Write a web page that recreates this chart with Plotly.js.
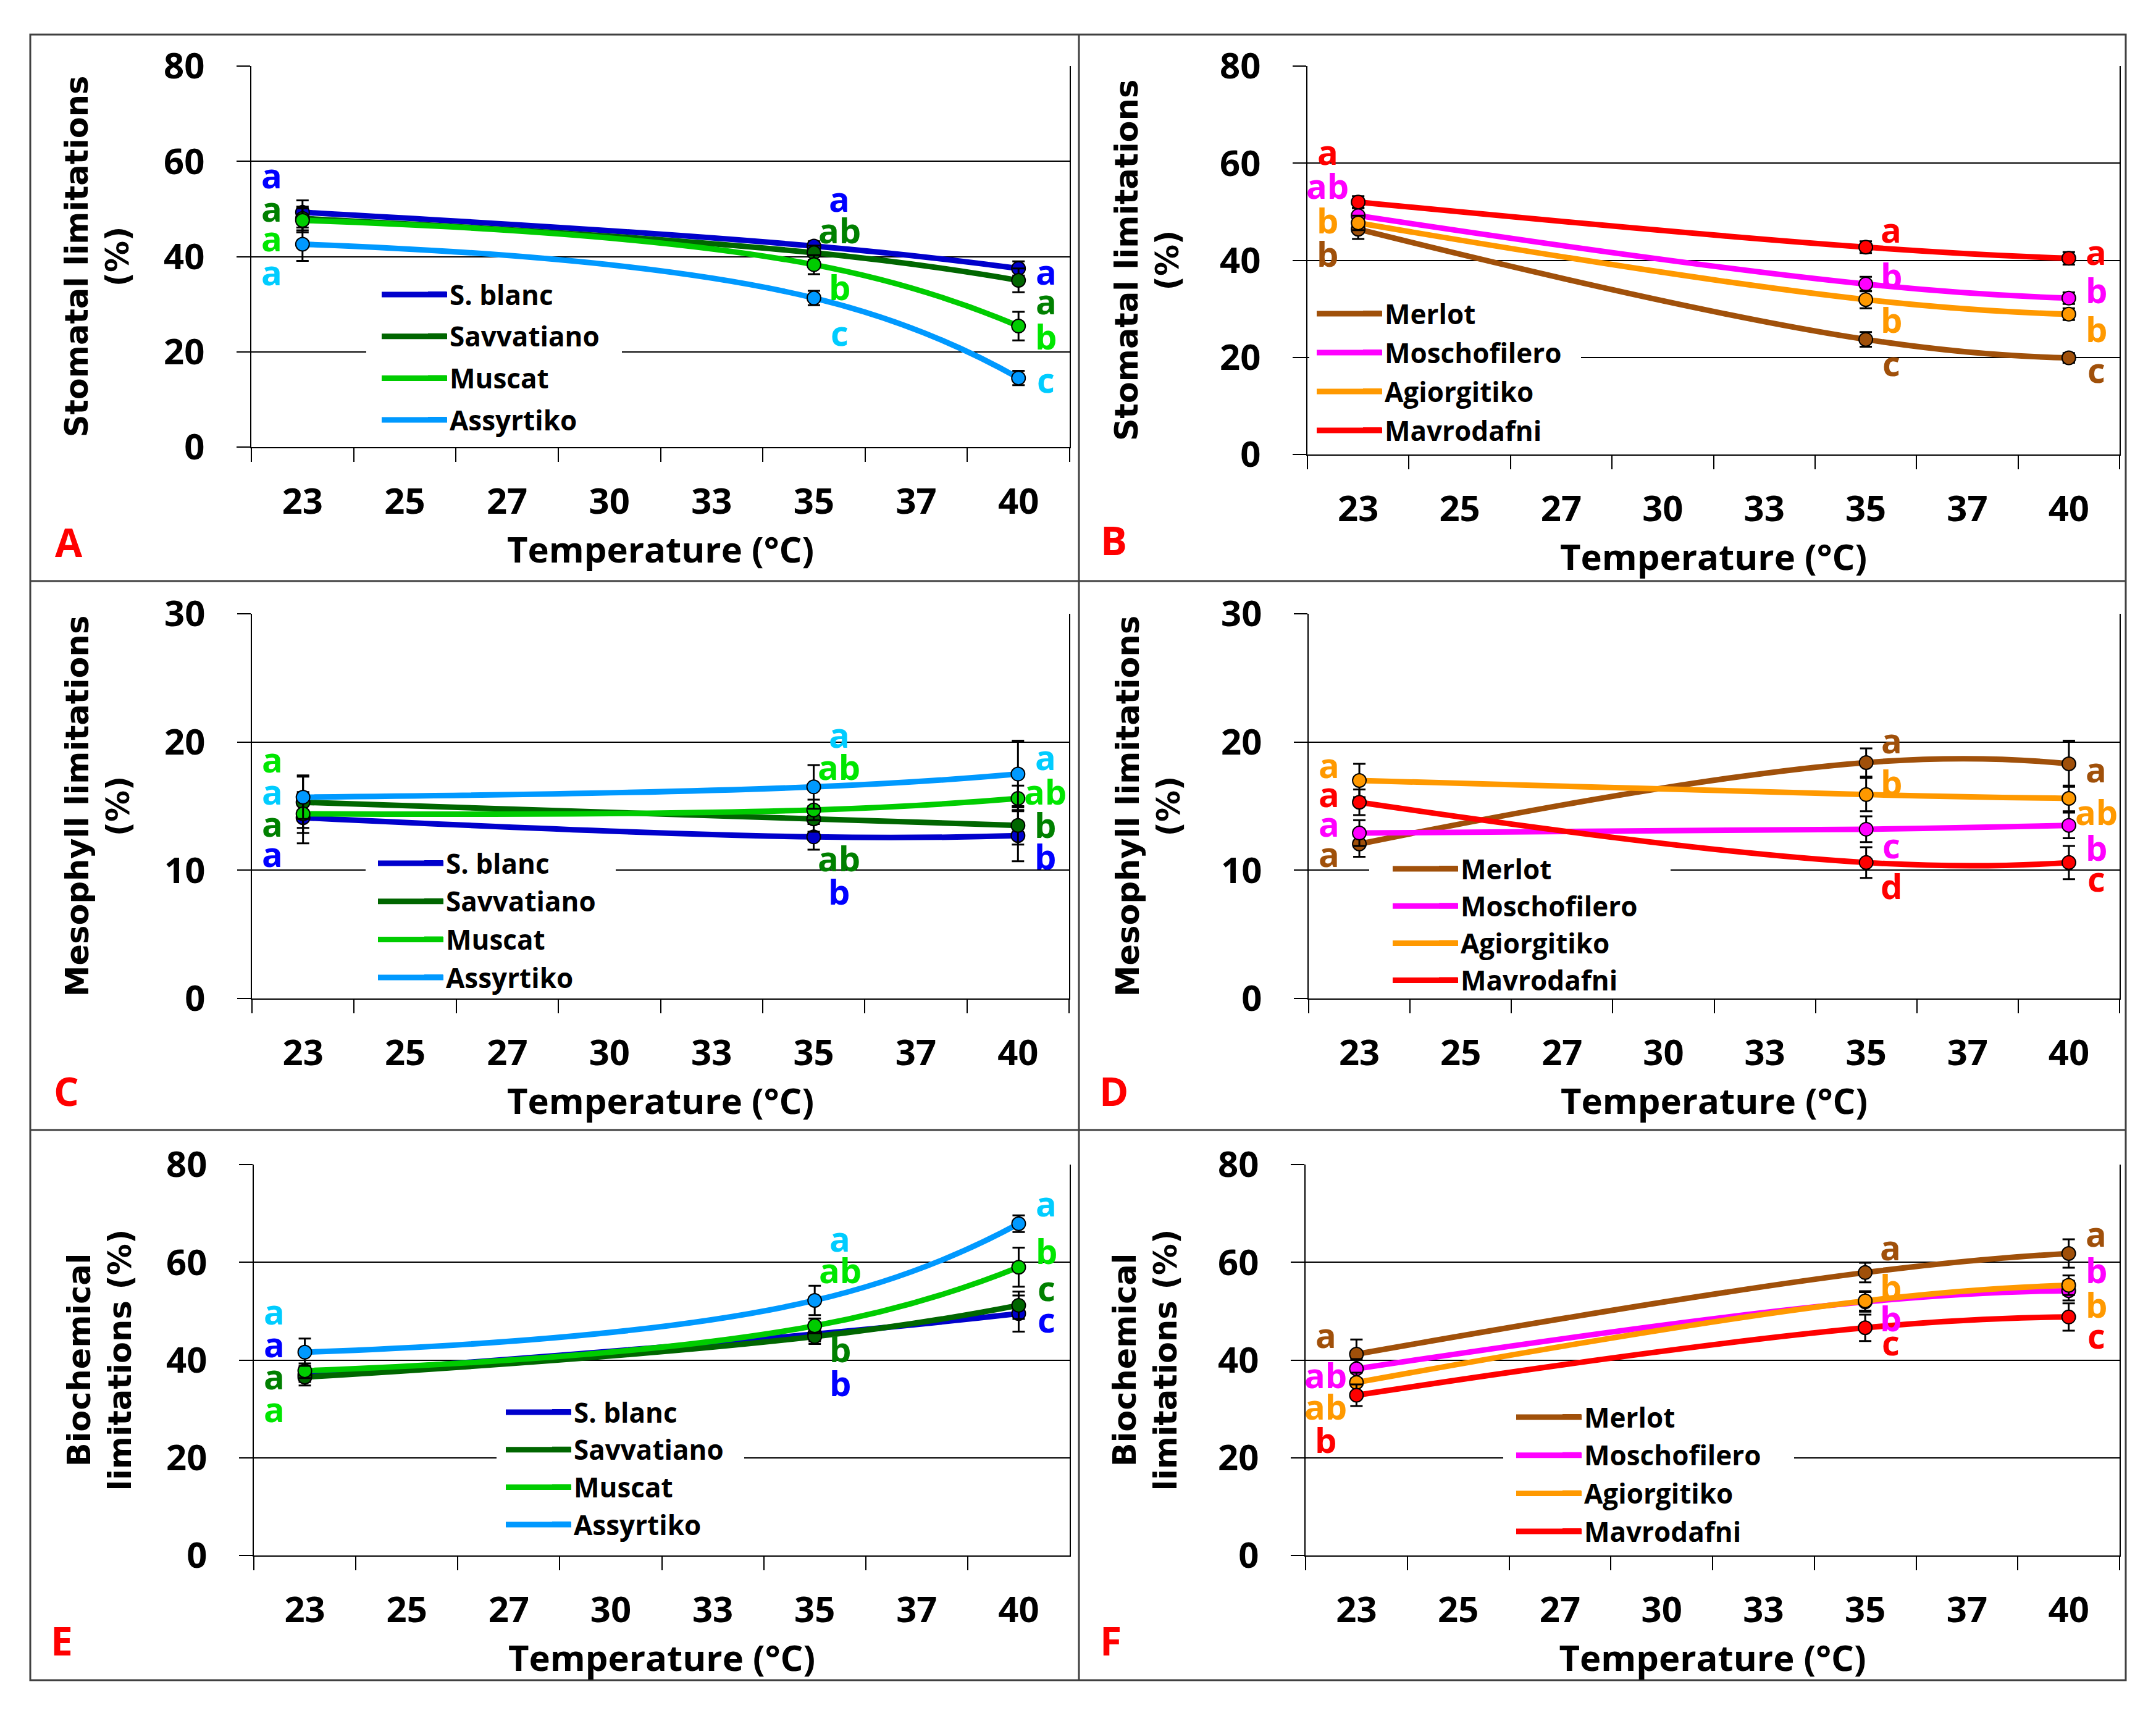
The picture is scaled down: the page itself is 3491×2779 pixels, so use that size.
<!DOCTYPE html>
<html><head><meta charset="utf-8">
<script src="https://cdn.plot.ly/plotly-3.0.1.min.js"></script>
<style>html,body{margin:0;padding:0;background:#fff}#chart{width:3491px;height:2779px}</style>
</head><body><div id="chart"></div>
<script>
// ---------------- DATA ----------------
const categories = ['23','25','27','30','33','35','37','40'];
const measuredTemps = ['23','35','40'];
const whiteCultivars = ['S. blanc','Savvatiano','Muscat','Assyrtiko'];
const redCultivars = ['Merlot','Moschofilero','Agiorgitiko','Mavrodafni'];

// A: stomatal limitations, white cultivars (rows follow whiteCultivars; cols follow measuredTemps)
const stomatalWhiteMean = [[49.3,42.2,37.5],[48.0,40.8,35.0],[47.6,38.3,25.4],[42.6,31.3,14.5]];
const stomatalWhiteErr  = [[2.5,1.0,1.5],[2.5,1.5,2.5],[2.5,2.0,3.0],[3.5,1.5,1.5]];
const stomatalWhiteLetters = [['a','a','a'],['a','ab','a'],['a','b','b'],['a','c','c']];
const stomatalWhiteLetterY = [[57.2,52.2,37.0],[50.2,45.6,30.7],[44.0,33.7,23.4],[36.8,24.1,14.2]];

// B: stomatal limitations, red cultivars
const stomatalRedMean = [[46.4,23.7,19.9],[49.2,35.1,32.2],[47.7,31.9,28.9],[52.0,42.7,40.4]];
const stomatalRedErr  = [[2.0,1.5,1.0],[1.5,1.5,1.2],[1.5,1.8,1.2],[1.2,1.2,1.3]];
const stomatalRedLetters = [['b','c','c'],['ab','b','b'],['b','b','b'],['a','a','a']];
const stomatalRedLetterY = [[41.5,19.0,17.5],[55.5,37.0,33.9],[48.3,27.8,26.0],[62.5,46.4,41.9]];

// C: mesophyll limitations, white cultivars
const mesophyllWhiteMean = [[14.1,12.6,12.7],[15.3,14.0,13.5],[14.4,14.7,15.6],[15.7,16.5,17.5]];
const mesophyllWhiteErr  = [[2.0,1.0,2.0],[2.0,1.0,1.5],[1.5,0.8,1.0],[1.7,1.7,2.6]];
const mesophyllWhiteLetters = [['a','b','b'],['a','ab','b'],['a','ab','ab'],['a','a','a']];
const mesophyllWhiteLetterY = [[11.3,8.4,11.1],[13.7,11.0,13.6],[18.7,18.1,16.2],[16.2,20.6,18.9]];

// D: mesophyll limitations, red cultivars
const mesophyllRedMean = [[12.05,18.4,18.3],[12.9,13.2,13.5],[17.0,15.9,15.6],[15.3,10.6,10.6]];
const mesophyllRedErr  = [[1.0,1.1,1.8],[1.0,1.0,1.0],[1.3,1.3,1.0],[1.0,1.2,1.3]];
const mesophyllRedLetters = [['a','a','a'],['a','c','b'],['a','b','ab'],['a','d','c']];
const mesophyllRedLetterY = [[11.3,20.2,17.9],[13.7,12.0,11.8],[18.25,16.9,14.6],[16.0,8.8,9.4]];

// E: biochemical limitations, white cultivars
const biochemWhiteMean = [[37.0,45.3,49.5],[36.5,44.8,51.2],[37.8,47.0,59.0],[41.6,52.2,67.9]];
const biochemWhiteErr  = [[1.5,1.5,3.7],[1.7,1.5,2.8],[1.5,1.5,4.0],[2.8,3.0,1.7]];
const biochemWhiteLetters = [['a','b','c'],['a','b','c'],['a','ab','b'],['a','a','a']];
const biochemWhiteLetterY = [[43.4,35.4,48.4],[36.8,42.4,54.9],[30.1,58.5,62.4],[50.0,64.9,72.2]];

// F: biochemical limitations, red cultivars
const biochemRedMean = [[41.2,57.9,61.8],[38.2,51.9,54.2],[35.4,52.1,55.3],[32.8,46.6,48.8]];
const biochemRedErr  = [[3.0,2.0,2.9],[2.0,2.0,2.0],[2.0,2.0,2.0],[2.2,2.7,2.8]];
const biochemRedLetters = [['a','a','a'],['ab','b','b'],['ab','b','b'],['b','c','c']];
const biochemRedLetterY = [[45.3,63.2,66.0],[37.0,48.6,58.5],[30.6,55.1,51.5],[23.8,43.7,45.1]];

const panelLetters = ['A','B','C','D','E','F'];
const yTitles = ['Stomatal limitations<br>(%)','Stomatal limitations<br>(%)',
                 'Mesophyll limitations<br>(%)','Mesophyll limitations<br>(%)',
                 'Biochemical<br>limitations (%)','Biochemical<br>limitations (%)'];
const xTitle = 'Temperature (°C)';

// ---------------- STYLE / LAYOUT ----------------
const W = 3491, H = 2779;
const whiteLine = ['#0000CC','#006600','#00CC00','#0099FF'];
const whiteLetterColor = ['#0000FF','#008000','#00E600','#00CCFF'];
const redLine = ['#A0500A','#FF00FF','#FF9900','#FF0000'];
const redLetterColor = ['#A0500A','#FF00FF','#FF9900','#FF0000'];
const TF = 'Open Sans, Liberation Sans, Arial, sans-serif';
const YF = 'DejaVu Sans, Verdana, sans-serif';
const letterX = [-0.3, 5.25, 7.27];
const LEG_FONT = 44, LEG_ITEM = LEG_FONT * 1.3 + 3;

// leg: [text left px, first entry centre px, entry spacing px]; cover: legend box [x0,x1,y0,y1] px
const panels = [
  {mean:stomatalWhiteMean, err:stomatalWhiteErr, let:stomatalWhiteLetters, letY:stomatalWhiteLetterY, names:whiteCultivars, col:whiteLine, lcol:whiteLetterColor,
   px:[407,1732], py:[107,724], ymax:80, dtick:20, xstand:22, ystand:40, leg:[730,477,67.7], cover:[593,1007,440,715], lab:[111,877]},
  {mean:stomatalRedMean, err:stomatalRedErr, let:stomatalRedLetters, letY:stomatalRedLetterY, names:redCultivars, col:redLine, lcol:redLetterColor,
   px:[2117,3432], py:[107,736], ymax:80, dtick:20, xstand:4, ystand:50, leg:[2244,508,63], cover:[2120,2560,472,732], lab:[1803,875]},
  {mean:mesophyllWhiteMean, err:mesophyllWhiteErr, let:mesophyllWhiteLetters, letY:mesophyllWhiteLetterY, names:whiteCultivars, col:whiteLine, lcol:whiteLetterColor,
   px:[408,1731], py:[994,1617], ymax:30, dtick:10, xstand:20, ystand:40, leg:[724,1398,61.7], cover:[592,997,1362,1612], lab:[107,1766]},
  {mean:mesophyllRedMean, err:mesophyllRedErr, let:mesophyllRedLetters, letY:mesophyllRedLetterY, names:redCultivars, col:redLine, lcol:redLetterColor,
   px:[2119,3432], py:[994,1617], ymax:30, dtick:10, xstand:20, ystand:50, leg:[2367,1407,58.7], cover:[2217,2705,1380,1612], lab:[1803,1766]},
  {mean:biochemWhiteMean, err:biochemWhiteErr, let:biochemWhiteLetters, letY:biochemWhiteLetterY, names:whiteCultivars, col:whiteLine, lcol:whiteLetterColor,
   px:[411,1732], py:[1886,2519], ymax:80, dtick:20, xstand:0, ystand:40, leg:[931,2287,60.7], cover:[804,1205,2250,2505], lab:[100,2656]},
  {mean:biochemRedMean, err:biochemRedErr, let:biochemRedLetters, letY:biochemRedLetterY, names:redCultivars, col:redLine, lcol:redLetterColor,
   px:[2114,3432], py:[1886,2519], ymax:80, dtick:20, xstand:0, ystand:50, leg:[2567,2295,61.7], cover:[2434,2905,2262,2515], lab:[1799,2656]}
];

const traces = [];
const markerTraces = [];
const layout = {
  width: W, height: H, margin:{l:0,r:0,t:0,b:0,pad:0},
  paper_bgcolor:'#fff', plot_bgcolor:'rgba(0,0,0,0)',
  showlegend:true, annotations:[], shapes:[]
};
const PX = v => v / W, PY = v => 1 - v / H;

panels.forEach((p, k) => {
  const n = k + 1;
  const xa = 'x' + (n === 1 ? '' : n), ya = 'y' + (n === 1 ? '' : n);
  const xkey = 'xaxis' + (n === 1 ? '' : n), ykey = 'yaxis' + (n === 1 ? '' : n);
  const legId = 'legend' + (n === 1 ? '' : n);
  const gap = Math.max(0, p.leg[2] - LEG_ITEM);
  // legend box (white) hiding gridlines
  layout.shapes.push({type:'rect', xref:'paper', yref:'paper', x0:PX(p.cover[0]), x1:PX(p.cover[1]),
    y0:PY(p.cover[3]), y1:PY(p.cover[2]), fillcolor:'#fff', line:{width:0}, layer:'above'});
  p.names.forEach((name, i) => {
    const grp = 'p' + n + 'g' + i;
    traces.push({
      type:'scatter', mode:'lines', name:name, x:measuredTemps, y:p.mean[i],
      xaxis:xa, yaxis:ya, legend:legId, legendgroup:grp, showlegend:true,
      line:{color:p.col[i], width:9, shape:'spline', smoothing:1.3}, hoverinfo:'skip'
    });
    markerTraces.push({
      type:'scatter', mode:'markers', name:name, x:measuredTemps, y:p.mean[i],
      xaxis:xa, yaxis:ya, legend:legId, legendgroup:grp, showlegend:false,
      marker:{color:p.col[i], size:22, line:{color:'#000', width:2}},
      error_y:{type:'data', array:p.err[i], visible:true, color:'#000', thickness:3, width:10}
    });
    // long legend key line, as in the original
    const cy = p.leg[1] + i * (LEG_ITEM + gap);
    layout.shapes.push({type:'line', xref:'paper', yref:'paper', x0:PX(p.leg[0] - 112), x1:PX(p.leg[0] - 6),
      y0:PY(cy), y1:PY(cy), line:{color:p.col[i], width:9}, layer:'above'});
    p.let[i].forEach((t, j) => {
      layout.annotations.push({xref:xa, yref:ya, x:letterX[j], y:p.letY[i][j], text:t, showarrow:false,
        font:{family:TF, size:56, color:p.lcol[i], weight:'bold'}, xanchor:'center', yanchor:'middle'});
    });
  });
  layout[xkey] = {
    domain:[PX(p.px[0]), PX(p.px[1])], anchor:ya, type:'category', categoryorder:'array', categoryarray:categories,
    range:[-0.5, 7.5], tickmode:'linear', tick0:0, dtick:1, tickson:'boundaries',
    ticks:'outside', ticklen:22, tickwidth:2, tickcolor:'#000',
    showline:true, linecolor:'#000', linewidth:2, showgrid:false, zeroline:false,
    tickfont:{family:TF, size:58, color:'#000', weight:'bold'}, ticklabelstandoff:36,
    title:{text:xTitle, font:{family:TF, size:58, color:'#000', weight:'bold'}, standoff:p.xstand},
    automargin:false, fixedrange:true
  };
  layout[ykey] = {
    domain:[PY(p.py[1]), PY(p.py[0])], anchor:xa, range:[0, p.ymax], tickmode:'linear', tick0:0, dtick:p.dtick,
    ticks:'outside', ticklen:22, tickwidth:2, tickcolor:'#000',
    showline:true, mirror:true, linecolor:'#000', linewidth:2, showgrid:true, gridcolor:'#000', gridwidth:2, zeroline:false,
    tickfont:{family:TF, size:58, color:'#000', weight:'bold'}, ticklabelstandoff:40,
    title:{text:yTitles[k], font:{family:YF, size:51, color:'#000', weight:'bold'}, standoff:p.ystand},
    automargin:false, fixedrange:true
  };
  layout[legId] = {
    x:PX(p.leg[0] - 42), y:PY(p.leg[1] - 35.6), xanchor:'left', yanchor:'top',
    bgcolor:'rgba(0,0,0,0)', borderwidth:0, font:{family:TF, size:LEG_FONT, color:'#000', weight:'bold'},
    tracegroupgap:gap, itemwidth:30
  };
  layout.annotations.push({xref:'paper', yref:'paper', x:PX(p.lab[0]), y:PY(p.lab[1]), text:panelLetters[k],
    showarrow:false, xanchor:'center', yanchor:'middle', font:{family:TF, size:64, color:'#FF0000', weight:'bold'}});
});

// panel frames
const frameColor = '#404040';
layout.shapes.push({type:'rect', xref:'paper', yref:'paper', x0:PX(49), x1:PX(3442), y0:PY(2721), y1:PY(56), line:{color:frameColor, width:3}, layer:'below'});
layout.shapes.push({type:'line', xref:'paper', yref:'paper', x0:PX(1747), x1:PX(1747), y0:PY(2721), y1:PY(56), line:{color:frameColor, width:3}, layer:'below'});
layout.shapes.push({type:'line', xref:'paper', yref:'paper', x0:PX(49), x1:PX(3442), y0:PY(941), y1:PY(941), line:{color:frameColor, width:3}, layer:'below'});
layout.shapes.push({type:'line', xref:'paper', yref:'paper', x0:PX(49), x1:PX(3442), y0:PY(1830), y1:PY(1830), line:{color:frameColor, width:3}, layer:'below'});

Plotly.newPlot('chart', traces.concat(markerTraces), layout, {staticPlot:true, displayModeBar:false});
</script>
</body></html>
